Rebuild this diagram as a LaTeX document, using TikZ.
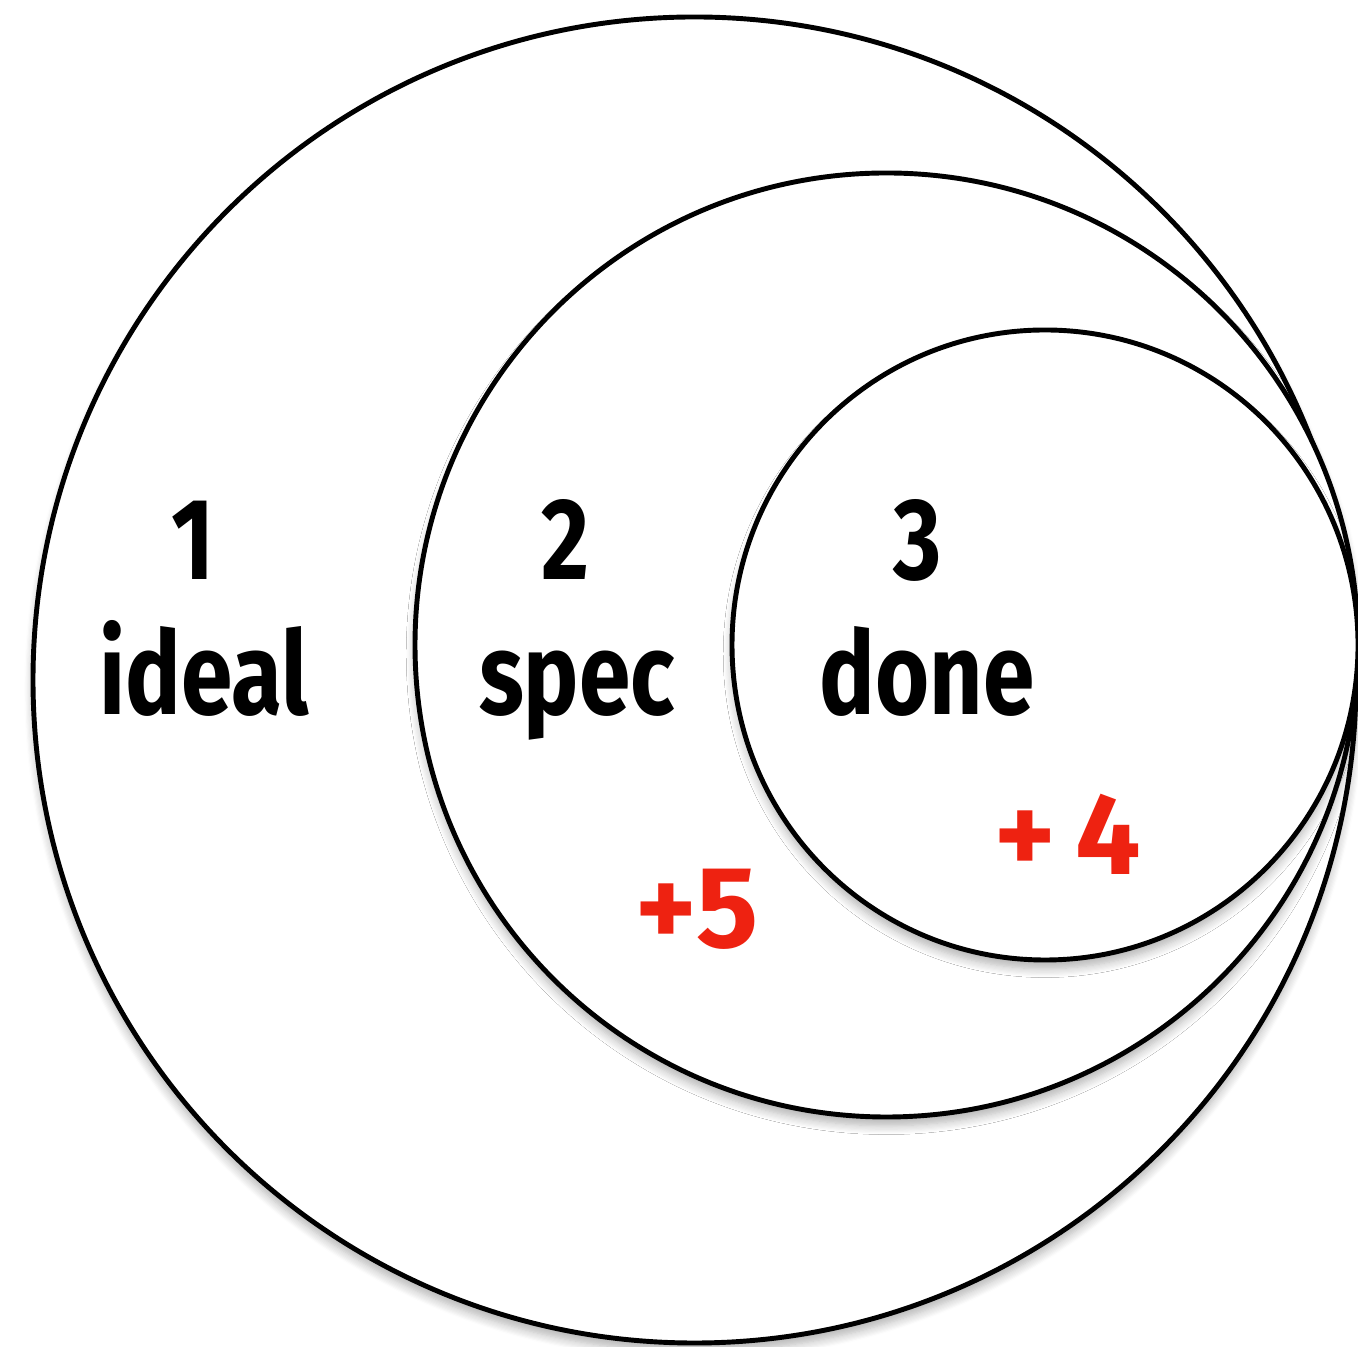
\documentclass[tikz,border=0pt]{standalone}
\usepackage{fontspec}
\newfontfamily\labelfont[FakeStretch=0.80]{Fira Sans}
\newfontfamily\gainfont[FakeStretch=1.0]{Fira Sans}
\usetikzlibrary{shadows.blur}
\definecolor{plusred}{RGB}{238,34,17}
\tikzset{
  ring/.style={draw=black, line width=1.4pt, fill=white,
    blur shadow={shadow xshift=0pt, shadow yshift=-2.5pt,
      shadow blur radius=2.5pt, shadow blur steps=8, shadow opacity=30}},
  lbl/.style={anchor=base, inner sep=0pt,
    font=\labelfont\bfseries\fontsize{33}{36}\selectfont},
  gain/.style={anchor=base, inner sep=0pt, text=plusred,
    font=\gainfont\bfseries\fontsize{33}{36}\selectfont}
}
\begin{document}
\begin{tikzpicture}
        \useasboundingbox (0,0) rectangle (13.58,13.46);

        % 三个圆 (外 -> 内)
        \draw[ring] (6.945,6.66) ellipse (6.615 and 6.63);  % ideal
        \draw[ring] (8.865,7.01) ellipse (4.715 and 4.72);  % spec
        \draw[ring] (10.45,7.01) ellipse (3.13 and 3.15);   % done

        % 编号
        \node[lbl] (n1) at (1.93,7.66) {1};
        \node[lbl] (n2) at (5.65,7.66) {2};
        \node[lbl] (n3) at (9.18,7.66) {3};

        % 名称
        \node[lbl] (ideal) at (2.04,6.31) {ideal};
        \node[lbl] (spec) at (5.77,6.31) {spec};
        \node[lbl] (done) at (9.27,6.31) {done};

        % 红色加分
        \node[gain] (plus5) at (6.97,3.98) {+5};
        \node[gain] (plus4) at (10.68,4.71) {+\,4};

    \end{tikzpicture}
\end{document}
